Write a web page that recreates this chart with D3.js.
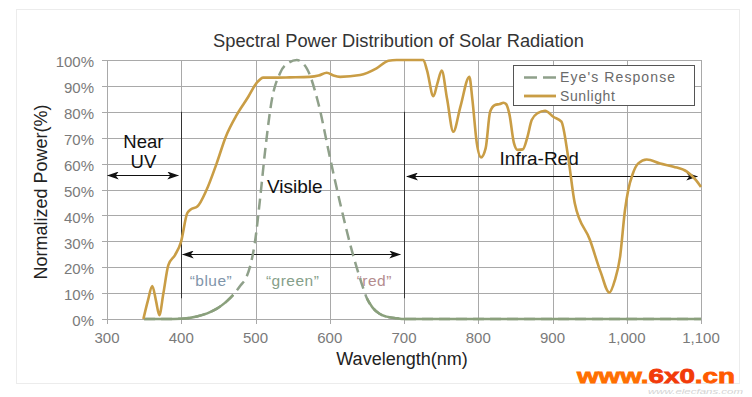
<!DOCTYPE html>
<html><head><meta charset="utf-8">
<script src="https://cdn.jsdelivr.net/npm/d3@7"></script>
<style>
html,body{margin:0;padding:0;background:#fff;}
svg{display:block;font-family:"Liberation Sans",Arial,Helvetica,sans-serif;}
</style></head>
<body><svg id="c" width="752" height="397"></svg>
<script>
// ---- data ----
const xTicks = [300,400,500,600,700,800,900,1000,1100];
const yTicks = [0,10,20,30,40,50,60,70,80,90,100];
const sunWl = [349,355,361,366,370.4,376,382.6,391.6,399.7,408,412.7,421.6,434,447.7,460,474.7,490.3,501.6,510.5,530,546,573,585,596,605,614,641,663,679,690,726,731,739.6,745,750.8,758,766.4,776,788,792,798,803.7,810,816,822.6,829,834,837.4,842,848,853,860,866,872,880,890,901,912,921,930,950.5,965,976.5,984,991,997.6,1002,1008,1015.5,1027,1045,1063,1081,1092,1100];
const sunPow = [0,7,12.7,7,1.5,10,20.8,24.7,29.8,40.8,42.3,43.4,49.8,60.1,70.4,78.8,85.8,91.2,93.2,93.2,93.3,93.5,94,95.1,94,93.5,94.2,96.8,99.7,100,100,96,86,91,95.9,85,72.3,82,93.5,85,68,62.4,66,80,82.6,83,83.5,83,79,68,65.3,65.5,70,76.8,79.5,80.4,78.1,76.2,62.7,44.7,30.5,18,10.2,15,24,42,49.8,56,60.1,61.6,60,58.8,56.9,54,51];
const eyeWl = [350,380,400,421,435,448,460,470,480,488,495,499,506,513,522,533,545,555.5,569,584.6,600,614,629.6,643,650,658.6,667,676.7,690,700,800,900,1000,1100];
const eyeResp = [0,0,0.1,1,2.2,4,6.5,9.3,13,16.3,23,29.2,46,65,84.6,94.9,99,100,96.8,83.3,62.7,44.7,26.6,13.7,8,4.1,2,0.9,0.3,0,0,0,0,0];
const seriesNames = ["Eye's Response","Sunlight"];
const bandLabels = ["\u201cblue\u201d","\u201cgreen\u201d","\u201cred\u201d"];
const bandColors = ["#7f95aa","#86a08a","#b48c8e"];
const bandCenters = [440,550,660];

const svg = d3.select("#c");
const colSun = "#c99d45", colEye = "#8fa08a";
const x = d3.scaleLinear().domain([300,1100]).range([107,701]);
const y = d3.scaleLinear().domain([0,100]).range([319,60]);

// panel border
svg.append("rect").attr("x",16.5).attr("y",9.5).attr("width",723).attr("height",374)
  .attr("fill","#fff").attr("stroke","#ececec");

// grid
const g = svg.append("g");
g.selectAll(".hg").data(yTicks).join("line")
  .attr("x1",x(300)-5).attr("x2",x(1100)).attr("y1",d=>Math.round(y(d))+0.5).attr("y2",d=>Math.round(y(d))+0.5)
  .attr("stroke","#a9a9a9").attr("stroke-width",1);
g.selectAll(".vg").data(xTicks).join("line")
  .attr("x1",d=>Math.round(x(d))+0.5).attr("x2",d=>Math.round(x(d))+0.5).attr("y1",y(100)).attr("y2",y(0)+5)
  .attr("stroke","#a9a9a9").attr("stroke-width",1);
// darker region separators
g.selectAll(".sep").data([400,700]).join("line")
  .attr("x1",d=>Math.round(x(d))+0.5).attr("x2",d=>Math.round(x(d))+0.5).attr("y1",y(80)).attr("y2",y(8))
  .attr("stroke","#333").attr("stroke-width",1);

// tick labels
svg.append("g").selectAll("text").data(yTicks).join("text")
  .attr("x",94).attr("y",d=>y(d)+2).attr("dy","0.35em").attr("text-anchor","end")
  .attr("font-size",15).attr("fill","#7a7a7a").text(d=>d+"%");
svg.append("g").selectAll("text").data(xTicks).join("text")
  .attr("x",d=>x(d)).attr("y",343).attr("text-anchor","middle")
  .attr("font-size",15).attr("fill","#7a7a7a").text(d=>d3.format(",")(d));

// title & axis labels
svg.append("text").attr("x",398.5).attr("y",47).attr("text-anchor","middle")
  .attr("font-size",18.3).attr("fill","#333").text("Spectral Power Distribution of Solar Radiation");
svg.append("text").attr("x",402).attr("y",365).attr("text-anchor","middle")
  .attr("font-size",18).attr("fill","#222").text("Wavelength(nm)");
svg.append("text").attr("transform","translate(47,192) rotate(-90)").attr("text-anchor","middle")
  .attr("font-size",18).attr("fill","#222").text("Normalized Power(%)");

// arrows
const defs = svg.append("defs");
defs.append("marker").attr("id","ah").attr("viewBox","0 0 12 8").attr("refX",11).attr("refY",4)
  .attr("markerWidth",12).attr("markerHeight",8).attr("markerUnits","userSpaceOnUse").attr("orient","auto-start-reverse")
  .append("path").attr("d","M0,0 L12,4 L0,8 L3,4 Z").attr("fill","#111");
const arrows = [[301,396,55.6],[402,695,25],[704,1095,55.2]];
svg.append("g").selectAll("line").data(arrows).join("line")
  .attr("x1",d=>x(d[0])).attr("x2",d=>x(d[1])).attr("y1",d=>Math.round(y(d[2]))+0.5).attr("y2",d=>Math.round(y(d[2]))+0.5)
  .attr("stroke","#111").attr("stroke-width",1)
  .attr("marker-start","url(#ah)").attr("marker-end","url(#ah)");

// region labels
const reg = svg.append("g").attr("font-size",19).attr("fill","#111").attr("text-anchor","middle");
reg.append("text").attr("x",x(349)).attr("y",148).attr("font-size",18.5).text("Near");
reg.append("text").attr("x",x(349)).attr("y",168).attr("font-size",18.5).text("UV");
reg.append("text").attr("x",x(553)).attr("y",193).text("Visible");
reg.append("text").attr("x",x(882)).attr("y",165).text("Infra-Red");

// band labels
svg.append("g").selectAll("text").data(bandLabels).join("text")
  .attr("x",(d,i)=>x(bandCenters[i])).attr("y",286).attr("text-anchor","middle")
  .attr("font-size",15.5).attr("letter-spacing",0.5).attr("fill",(d,i)=>bandColors[i]).text(d=>d);

// curves
const eyeData = eyeWl.map((w,i)=>({w,v:eyeResp[i]}));
const sunData = sunWl.map((w,i)=>({w,v:sunPow[i]}));
const line = d3.line().x(d=>x(d.w)).y(d=>y(d.v)).curve(d3.curveMonotoneX);
svg.append("path").datum(eyeData).attr("d",line).attr("fill","none")
  .attr("stroke",colEye).attr("stroke-width",2.5).attr("stroke-dasharray","11,6");
svg.append("path").datum(eyeData).attr("d",line.defined(d=>d.v<=10)).attr("fill","none")
  .attr("stroke","#8aa07c").attr("stroke-width",2.5);
line.defined(()=>true);
svg.append("path").datum(sunData).attr("d",line).attr("fill","none")
  .attr("stroke",colSun).attr("stroke-width",2.6).attr("stroke-linejoin","round");

// legend
const lg = svg.append("g");
lg.append("rect").attr("x",513.5).attr("y",65.5).attr("width",181).attr("height",40)
  .attr("fill","#fff").attr("stroke","#555");
lg.append("line").attr("x1",524).attr("x2",556).attr("y1",77.5).attr("y2",77.5)
  .attr("stroke",colEye).attr("stroke-width",2.6).attr("stroke-dasharray","13,6");
lg.append("line").attr("x1",524).attr("x2",556).attr("y1",96).attr("y2",96)
  .attr("stroke",colSun).attr("stroke-width",2.8);
lg.selectAll("text").data(seriesNames).join("text")
  .attr("x",560).attr("y",(d,i)=>82+i*19).attr("font-size",14).attr("letter-spacing",(d,i)=>i?0.6:1.1)
  .attr("fill","#6a6a6a").text(d=>d);

// watermark
svg.append("text").attr("x",648).attr("y",394).attr("font-size",8).attr("font-style","italic")
  .attr("fill","#d4d4d4").attr("textLength",95).attr("lengthAdjust","spacingAndGlyphs").text("www.elecfans.com");
const wm = svg.append("text").attr("x",577).attr("y",383).attr("font-size",20).attr("font-weight","bold")
  .attr("textLength",158).attr("lengthAdjust","spacingAndGlyphs").attr("stroke-width",0.8);
wm.append("tspan").attr("fill","#ff6f00").attr("stroke","#ff6f00").text("www.");
wm.append("tspan").attr("fill","#f23a0a").attr("stroke","#f23a0a").text("6x0");
wm.append("tspan").attr("fill","#ff5a00").attr("stroke","#ff5a00").text(".cn");
</script></body></html>
